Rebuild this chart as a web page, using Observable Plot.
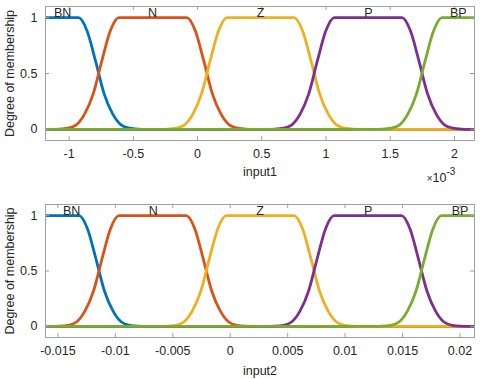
<!DOCTYPE html>
<html>
<head>
<meta charset="utf-8">
<script src="https://cdn.jsdelivr.net/npm/d3@7"></script>
<script src="https://cdn.jsdelivr.net/npm/@observablehq/plot@0.6"></script>
<style>
  html, body { margin: 0; padding: 0; background: #fff; }
  #charts { width: 480px; }
  #charts svg { display: block; }
</style>
</head>
<body>
<div id="charts"></div>
<script>
// ---------- data ----------
const mfNames = ["BN", "N", "Z", "P", "BP"];
const mfColors = ["#0072BD", "#D95319", "#EDB120", "#7E2F8E", "#77AC30"];

// membership degrees along each curve (shared by both inputs)
const yBN = [1, 1, 0.88, 0.61, 0.32, 0.14, 0.04, 0.01, 0.002, 0, 0];
const yN  = [0, 0, 0.002, 0.01, 0.04, 0.14, 0.32, 0.61, 0.88, 1, 1, 0.88, 0.61, 0.32, 0.14, 0.04, 0.01, 0.002, 0, 0];
const yZ  = [0, 0, 0.002, 0.01, 0.04, 0.14, 0.32, 0.61, 0.88, 1, 1, 0.88, 0.61, 0.32, 0.14, 0.04, 0.01, 0.002, 0, 0];
const yP  = [0, 0, 0.002, 0.01, 0.04, 0.14, 0.32, 0.61, 0.88, 1, 1, 0.88, 0.61, 0.32, 0.14, 0.04, 0.01, 0.002, 0, 0];
const yBP = [0, 0, 0.002, 0.01, 0.04, 0.14, 0.32, 0.61, 0.88, 1, 1];

// input1 (values in units of 1e-3)
const x1Domain = [-1.184, 2.156];
const x1BN = [-1.184, -0.926, -0.860, -0.794, -0.728, -0.662, -0.596, -0.530, -0.464, -0.398, 2.156];
const x1N  = [-1.184, -1.142, -1.076, -1.010, -0.944, -0.878, -0.812, -0.746, -0.680, -0.614,
              -0.083, -0.017, 0.049, 0.115, 0.181, 0.247, 0.313, 0.379, 0.445, 2.156];
const x1Z  = [-1.184, -0.299, -0.233, -0.167, -0.101, -0.035, 0.031, 0.097, 0.163, 0.229,
              0.752, 0.818, 0.884, 0.950, 1.016, 1.082, 1.148, 1.214, 1.280, 2.156];
const x1P  = [-1.184, 0.536, 0.602, 0.668, 0.734, 0.800, 0.866, 0.932, 0.998, 1.064,
              1.592, 1.658, 1.724, 1.790, 1.856, 1.922, 1.988, 2.054, 2.120, 2.156];
const x1BP = [-1.184, 1.375, 1.441, 1.507, 1.573, 1.639, 1.705, 1.771, 1.837, 1.903, 2.156];
const x1Ticks = [-1, -0.5, 0, 0.5, 1, 1.5, 2];
const x1TickLabels = ["-1", "-0.5", "0", "0.5", "1", "1.5", "2"];
const x1LabelPos = [-1.05, -0.35, 0.49, 1.33, 2.03];

// input2
const x2Domain = [-0.01608, 0.02126];
const x2BN = [-0.01608, -0.01316, -0.01242, -0.01169, -0.01095, -0.01021, -0.00947, -0.00874, -0.00800, -0.00726, 0.02126];
const x2N  = [-0.01608, -0.01559, -0.01485, -0.01411, -0.01338, -0.01264, -0.01190, -0.01116, -0.01043, -0.00969,
              -0.00382, -0.00308, -0.00235, -0.00161, -0.00087, -0.00013, 0.00060, 0.00134, 0.00208, 0.02126];
const x2Z  = [-0.01608, -0.00625, -0.00551, -0.00477, -0.00404, -0.00330, -0.00256, -0.00182, -0.00109, -0.00035,
              0.00556, 0.00630, 0.00703, 0.00777, 0.00851, 0.00925, 0.00998, 0.01072, 0.01146, 0.02126];
const x2P  = [-0.01608, 0.00313, 0.00387, 0.00461, 0.00534, 0.00608, 0.00682, 0.00756, 0.00829, 0.00903,
              0.01491, 0.01565, 0.01638, 0.01712, 0.01786, 0.01860, 0.01933, 0.02007, 0.02081, 0.02126];
const x2BP = [-0.01608, 0.01248, 0.01322, 0.01396, 0.01469, 0.01543, 0.01617, 0.01691, 0.01764, 0.01838, 0.02126];
const x2Ticks = [-0.015, -0.01, -0.005, 0, 0.005, 0.01, 0.015, 0.02];
const x2TickLabels = ["-0.015", "-0.01", "-0.005", "0", "0.005", "0.01", "0.015", "0.02"];
const x2LabelPos = [-0.0138, -0.0067, 0.0026, 0.0120, 0.0200];

const yDomain = [-0.1, 1.1];
const yTicks = [0, 0.5, 1];
const yTickLabels = ["0", "0.5", "1"];

// ---------- drawing ----------
const FONT = "Liberation Sans, Arial, Helvetica, sans-serif";
const FS = 12.5;
const TEXT = "#262626";
const AXIS = "#a0a0a0";

function buildRows(xs) {
  const ys = [yBN, yN, yZ, yP, yBP];
  const rows = [];
  xs.forEach((xa, i) => xa.forEach((x, j) => rows.push({name: mfNames[i], x, y: ys[i][j]})));
  return rows;
}

function chart({xs, xDomain, xTicks, xTickLabels, labelPos, xLabel, labelDy, height, marginTop, marginBottom}) {
  const rows = buildRows(xs);
  const labels = mfNames.map((n, i) => ({name: n, x: labelPos[i]}));
  const fmtX = d => xTickLabels[xTicks.indexOf(d)];
  const fmtY = d => yTickLabels[yTicks.indexOf(d)];
  return Plot.plot({
    width: 480,
    height,
    marginLeft: 45,
    marginRight: 6,
    marginTop,
    marginBottom,
    style: {fontFamily: FONT, fontSize: FS + "px", color: TEXT, background: "#fff", overflow: "visible"},
    x: {domain: xDomain},
    y: {domain: yDomain},
    color: {domain: mfNames, range: mfColors},
    marks: [
      Plot.line(rows, {x: "x", y: "y", z: "name", stroke: "name", strokeWidth: 2.8, curve: "monotone-x", clip: true}),
      Plot.frame({stroke: AXIS, strokeWidth: 1}),
      Plot.ruleX(xTicks, {x: d => d, y1: yDomain[0], y2: yDomain[0], insetTop: -4, stroke: AXIS}),
      Plot.ruleX(xTicks, {x: d => d, y1: yDomain[1], y2: yDomain[1], insetBottom: -4, stroke: AXIS}),
      Plot.ruleY(yTicks, {y: d => d, x1: xDomain[0], x2: xDomain[0], insetRight: -4, stroke: AXIS}),
      Plot.ruleY(yTicks, {y: d => d, x1: xDomain[1], x2: xDomain[1], insetLeft: -4, stroke: AXIS}),
      Plot.axisX({ticks: xTicks, tickFormat: fmtX, tickSize: 0, tickPadding: 9, label: null, fill: TEXT, fontSize: FS, fontFamily: FONT}),
      Plot.axisY({ticks: yTicks, tickFormat: fmtY, tickSize: 0, tickPadding: 8, label: null, fill: TEXT, fontSize: FS, fontFamily: FONT}),
      Plot.text(labels, {x: "x", y: yDomain[1], text: "name", fill: TEXT, lineAnchor: "middle", dy: 6.5, fontSize: FS, fontFamily: FONT}),
      Plot.text([xLabel], {frameAnchor: "bottom", text: d => d, dy: labelDy, lineAnchor: "top", fill: TEXT, fontSize: FS, fontFamily: FONT}),
      Plot.text(["Degree of membership"], {frameAnchor: "left", text: d => d, rotate: -90, dx: -36, textAnchor: "middle", lineAnchor: "middle", fill: TEXT, fontSize: FS, fontFamily: FONT})
    ]
  });
}

const c1 = chart({xs: [x1BN, x1N, x1Z, x1P, x1BP], xDomain: x1Domain, xTicks: x1Ticks, xTickLabels: x1TickLabels,
  labelPos: x1LabelPos, xLabel: "input1", labelDy: 27, height: 190, marginTop: 6, marginBottom: 50});
const c2 = chart({xs: [x2BN, x2N, x2Z, x2P, x2BP], xDomain: x2Domain, xTicks: x2Ticks, xTickLabels: x2TickLabels,
  labelPos: x2LabelPos, xLabel: "input2", labelDy: 29, height: 189, marginTop: 14, marginBottom: 42});

// exponent note ×10^-3 for input1
const t = d3.select(c1).append("text")
  .attr("x", 441).attr("y", 182)
  .attr("fill", TEXT)
  .attr("font-family", FONT)
  .attr("font-size", FS);
t.append("tspan").attr("font-size", 10).text("×");
t.append("tspan").text("10");
t.append("tspan").attr("font-size", 10).attr("dy", -7).text("-3");

document.getElementById("charts").append(c1, c2);
</script>
</body>
</html>
